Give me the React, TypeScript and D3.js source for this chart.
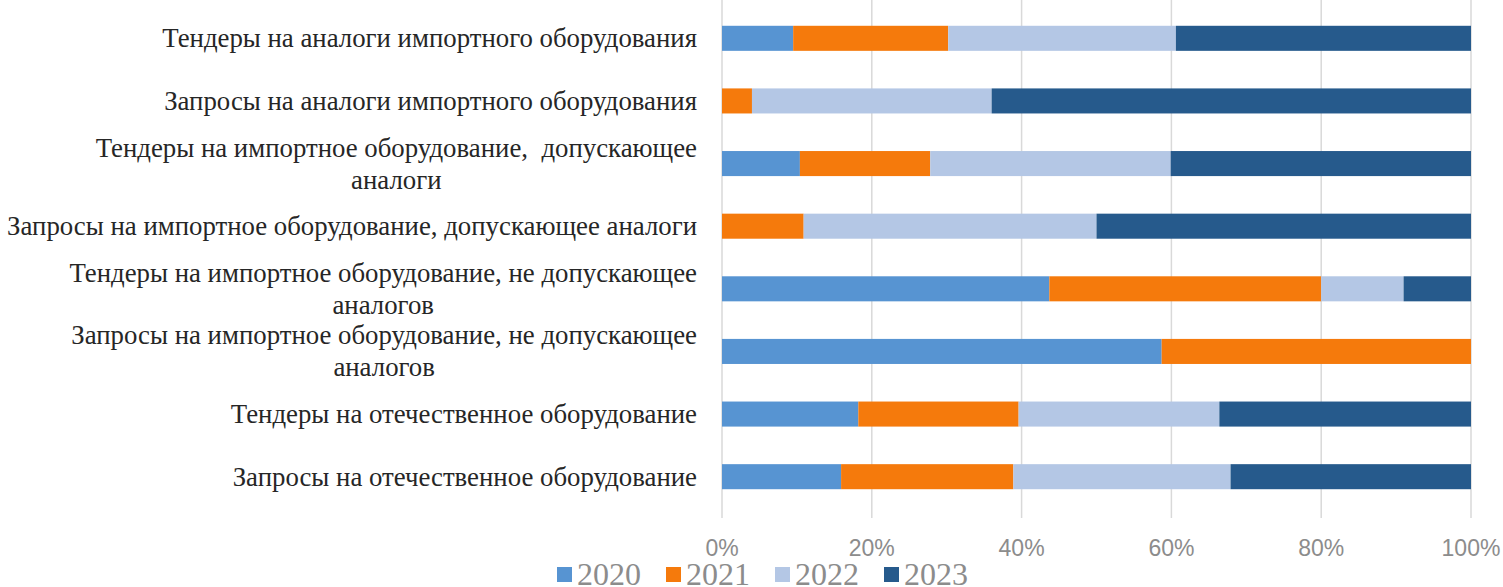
import { useEffect, useRef } from "react";
import * as d3 from "d3";

// ---------------------------------------------------------------------------
// Data (shares by year, %)
// ---------------------------------------------------------------------------

const CATEGORIES = [
  "Тендеры на аналоги импортного оборудования",
  "Запросы на аналоги импортного оборудования",
  "Тендеры на импортное оборудование,  допускающее\nаналоги",
  "Запросы на импортное оборудование, допускающее аналоги",
  "Тендеры на импортное оборудование, не допускающее\nаналогов",
  "Запросы на импортное оборудование, не допускающее\nаналогов",
  "Тендеры на отечественное оборудование",
  "Запросы на отечественное оборудование",
];

const YEARS = ["2020", "2021", "2022", "2023"];

const V2020 = [9.5, 0, 10.4, 0, 43.7, 58.7, 18.2, 15.9];
const V2021 = [20.7, 4.0, 17.4, 10.9, 36.3, 41.3, 21.4, 23.0];
const V2022 = [30.4, 32.0, 32.1, 39.1, 11.0, 0, 26.8, 29.0];
const V2023 = [39.4, 64.0, 40.1, 50.0, 9.0, 0, 33.6, 32.1];

const TICKS = [0, 0.2, 0.4, 0.6, 0.8, 1];

const COLORS = ["#5794d2", "#f57a0c", "#b4c7e5", "#265a8c"];

const W = 1503;
const H = 587;

export default function App() {
  const svgRef = useRef<SVGSVGElement>(null);

  useEffect(() => {
    const svg = d3.select(svgRef.current);
    svg.selectAll("*").remove();

    const x = d3.scaleLinear().domain([0, 1]).range([722, 1471]);
    const y = d3
      .scaleBand<string>()
      .domain(CATEGORIES)
      .range([7, 508])
      .paddingInner(0.6)
      .paddingOuter(0.3);

    const rows = CATEGORIES.map((c, i) => {
      const o: Record<string, any> = { cat: c };
      o["2020"] = V2020[i];
      o["2021"] = V2021[i];
      o["2022"] = V2022[i];
      o["2023"] = V2023[i];
      return o;
    });
    // normalise to 100% like Excel's 100% stacked bar
    const stack = d3.stack<any>().keys(YEARS).offset(d3.stackOffsetExpand);
    const series = stack(rows);

    // ---- gridlines ----
    svg
      .append("g")
      .selectAll("line")
      .data(TICKS)
      .join("line")
      .attr("x1", (d) => x(d))
      .attr("x2", (d) => x(d))
      .attr("y1", 0)
      .attr("y2", 518)
      .attr("stroke", "#d9d9d9")
      .attr("stroke-width", 1.5);

    // ---- bars ----
    series.forEach((s, si) => {
      svg
        .append("g")
        .attr("fill", COLORS[si])
        .selectAll("rect")
        .data(s)
        .join("rect")
        .attr("x", (d) => x(d[0]))
        .attr("width", (d) => Math.max(0, x(d[1]) - x(d[0])))
        .attr("y", (d) => y(d.data.cat)!)
        .attr("height", y.bandwidth());
    });

    // ---- tick labels ----
    svg
      .append("g")
      .selectAll("text")
      .data(TICKS)
      .join("text")
      .attr("x", (d) => x(d))
      .attr("y", 548)
      .attr("text-anchor", "middle")
      .attr("dominant-baseline", "central")
      .attr("fill", "#8c8c8c")
      .attr("font-family", "'Liberation Sans Narrow', 'Arial Narrow', sans-serif")
      .attr("font-size", 23)
      .text((d) => `${Math.round(d * 100)}%`);

    // ---- category labels ----
    const right = 697;
    const lineH = 32;
    CATEGORIES.forEach((c) => {
      const lines = c.split("\n");
      const cy = y(c)! + y.bandwidth() / 2;
      const g = svg.append("g");
      const texts = lines.map((ln, li) =>
        g
          .append("text")
          .attr("y", cy + (li - (lines.length - 1) / 2) * lineH)
          .attr("dominant-baseline", "central")
          .attr("text-anchor", "middle")
          .attr("fill", "#262626")
          .attr("font-family", "'Liberation Serif', 'Times New Roman', serif")
          .attr("font-size", 26.8)
          .style("white-space", "pre")
          .text(ln)
      );
      const widths = texts.map((t) => (t.node() as SVGTextElement).getComputedTextLength());
      const maxW = d3.max(widths) ?? 0;
      texts.forEach((t) => t.attr("x", right - maxW / 2));
    });

    // ---- legend ----
    const legend = svg.append("g").attr("transform", "translate(557, 574)");
    YEARS.forEach((yr, i) => {
      const item = legend.append("g").attr("transform", `translate(${i * 109}, 0)`);
      item
        .append("rect")
        .attr("x", 0)
        .attr("y", -7)
        .attr("width", 15)
        .attr("height", 15)
        .attr("fill", COLORS[i]);
      item
        .append("text")
        .attr("x", 20)
        .attr("y", 0)
        .attr("dominant-baseline", "central")
        .attr("fill", "#8c8c8c")
        .attr("font-family", "'Liberation Serif', 'Times New Roman', serif")
        .attr("font-size", 32)
        .text(yr);
    });
  }, []);

  return (
    <svg
      ref={svgRef}
      width={W}
      height={H}
      style={{ position: "absolute", left: 0, top: 0, background: "#fff" }}
    />
  );
}
